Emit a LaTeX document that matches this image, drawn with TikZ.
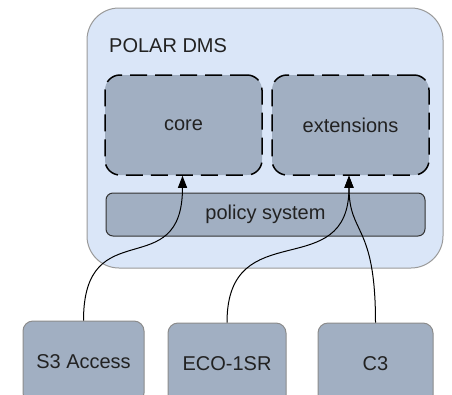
\documentclass[tikz,border=0pt]{standalone}
\usepackage{fontspec}
\setmainfont{Liberation Sans}
\usetikzlibrary{arrows.meta}
\definecolor{dmsfill}{HTML}{DAE6F8}
\definecolor{dmsline}{HTML}{9A9A9A}
\definecolor{boxfill}{HTML}{A1AFC2}
\definecolor{boxline}{HTML}{8C8C8C}
\definecolor{txt}{HTML}{222222}
\tikzset{
  lbl/.style={font=\fontsize{20pt}{24pt}\selectfont, text=txt},
  dmsbox/.style={draw=dmsline, fill=dmsfill, line width=1pt, rounded corners=32pt,
    minimum width=356pt, minimum height=260pt, inner sep=0pt},
  modbox/.style={lbl, draw=black, fill=boxfill, line width=1.5pt,
    dash pattern=on 17pt off 8pt, rounded corners=15pt,
    minimum width=157pt, minimum height=100pt, inner sep=0pt},
  polbox/.style={lbl, draw=black!80, fill=boxfill, line width=1pt, rounded corners=7pt,
    minimum width=319pt, minimum height=43pt, inner sep=0pt},
  clientbox/.style={lbl, draw=boxline, fill=boxfill, line width=1pt, rounded corners=10pt,
    minimum height=82pt, inner sep=0pt},
  link/.style={draw=black, line width=1pt, -{Triangle[length=12pt,width=9pt]}}
}
\begin{document}
\begin{tikzpicture}[x=1pt,y=-1pt]
\useasboundingbox (0,0) rectangle (452,394);
\clip (0,0) rectangle (452,394);
\fill[white] (0,0) rectangle (452,394);

% container
\node[dmsbox] (dms) at (265,138) {};
\node[lbl, anchor=base west, inner sep=0pt] (title) at (109,52) {POLAR DMS};

% internal modules
\node[modbox] (core) at (183.5,125) {core};
\node[modbox] (ext) at (350.5,125) {extensions};
\node[polbox] (policy) at (265.5,214.5) {policy system};

% clients (boxes run past the lower edge)
\node[clientbox, minimum width=121pt] (s3) at (83.5,362) {S3 Access};
\node[clientbox, minimum width=118pt] (eco) at (227,364) {ECO-1SR};
\node[clientbox, minimum width=115pt] (c3) at (375.5,364) {C3};

% connections
\draw[link] (s3.north) .. controls +(0,-110) and +(0,110) .. ([xshift=-1pt]core.south);
\draw[link] (eco.north) .. controls +(0,-110) and +(0,110) .. ([xshift=-1.5pt]ext.south);
\draw[link] (c3.north) .. controls +(0,-100) and +(0,60) .. ([xshift=-1.5pt]ext.south);
\end{tikzpicture}
\end{document}
